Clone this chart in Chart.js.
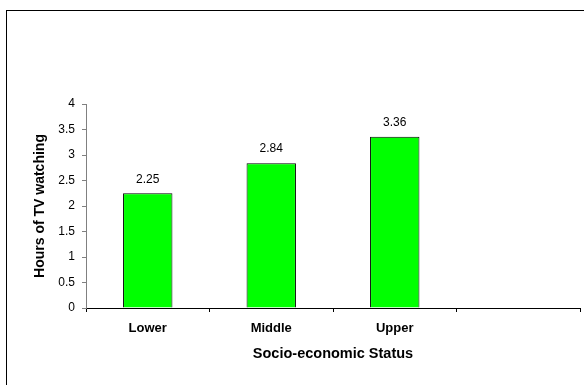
<!DOCTYPE html>
<html>
<head>
<meta charset="utf-8">
<style>
  html, body { margin: 0; padding: 0; background: #fff; }
  #wrap { width: 584px; height: 385px; position: relative; }
</style>
<script src="https://cdn.jsdelivr.net/npm/chart.js@4/dist/chart.umd.min.js"></script>
</head>
<body>
<div id="wrap"><canvas id="tvChart" width="584" height="385"></canvas></div>
<script>
// data
const categories = ['Lower', 'Middle', 'Upper', ''];
const hours = [2.25, 2.84, 3.36, null];
const yTickLabels = ['0', '0.5', '1', '1.5', '2', '2.5', '3', '3.5', '4'];

const FONT = '"Liberation Sans", Arial, sans-serif';

// frame around whole chart
const framePlugin = {
  id: 'frame',
  beforeDraw(chart) {
    const ctx = chart.ctx;
    ctx.save();
    ctx.fillStyle = '#fff';
    ctx.fillRect(0, 0, chart.width, chart.height);
    ctx.strokeStyle = '#000';
    ctx.lineWidth = 1;
    ctx.strokeRect(6.5, 10.5, chart.width, chart.height);
    ctx.restore();
  }
};

// value labels above bars
const valueLabels = {
  id: 'valueLabels',
  afterDatasetsDraw(chart) {
    const ctx = chart.ctx;
    const meta = chart.getDatasetMeta(0);
    ctx.save();
    ctx.font = '12px ' + FONT;
    ctx.fillStyle = '#000';
    ctx.textAlign = 'center';
    ctx.textBaseline = 'middle';
    meta.data.forEach((bar, i) => {
      const v = hours[i];
      if (v == null) return;
      ctx.fillText(v.toFixed(2), bar.x, bar.y - 14);
    });
    ctx.restore();
  }
};

new Chart(document.getElementById('tvChart'), {
  type: 'bar',
  data: {
    labels: categories,
    datasets: [{
      data: hours,
      backgroundColor: '#00ff00',
      borderColor: '#000',
      borderWidth: 1,
      barPercentage: 0.4,
      categoryPercentage: 1
    }]
  },
  options: {
    responsive: false,
    animation: false,
    layout: { padding: { left: 28, top: 104, right: 4, bottom: 18 } },
    plugins: {
      legend: { display: false },
      tooltip: { enabled: false }
    },
    scales: {
      x: {
        afterFit: (s) => { s.height = 59; },
        grid: { offset: true, drawOnChartArea: false, tickLength: 4, color: '#000' },
        border: { color: '#000', width: 1 },
        ticks: { color: '#000', padding: 9, font: { family: FONT, size: 13, weight: 'bold' } },
        title: {
          display: true, text: 'Socio-economic Status', color: '#000',
          padding: { top: 4, bottom: 4 },
          font: { family: FONT, size: 14.5, weight: 'bold' }
        }
      },
      y: {
        min: 0, max: 4,
        afterFit: (s) => { s.width = 58; },
        grid: { drawOnChartArea: false, tickLength: 4, color: '#808080' },
        border: { color: '#808080', width: 1 },
        ticks: {
          stepSize: 0.5, color: '#000', padding: 7,
          font: { family: FONT, size: 12 },
          callback: (v, i) => yTickLabels[i]
        },
        title: {
          display: true, text: 'Hours of TV watching', color: '#000',
          padding: { top: 4, bottom: 4 },
          font: { family: FONT, size: 14, weight: 'bold' }
        }
      }
    }
  },
  plugins: [framePlugin, valueLabels]
});
</script>
</body>
</html>
